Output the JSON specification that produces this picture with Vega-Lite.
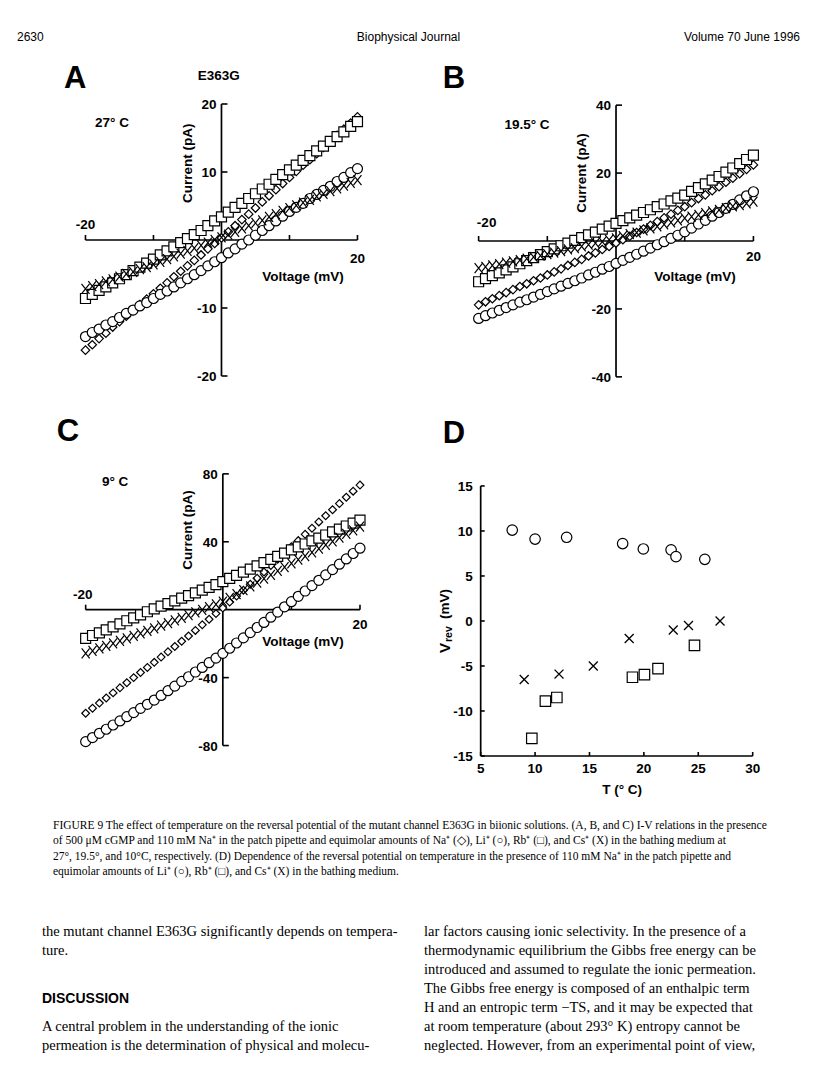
{
"$schema": "https://vega.github.io/schema/vega-lite/v6.json",
"padding": 0,
"spacing": 0,
"background": "white",
"config": {
  "view": {"stroke": null},
  "axis": {"disable": true},
  "legend": {"disable": true},
  "concat": {"spacing": 0},
  "text": {"font": "Liberation Sans", "fontWeight": "bold", "fontSize": 13.5, "color": "black", "baseline": "middle"},
  "rule": {"color": "black", "strokeWidth": 1.7},
  "tick": {"color": "black", "thickness": 1.6, "opacity": 1},
  "point": {"opacity": 1}
},
"datasets": {
  "A": [
    {"v":-20,"n":-16.2,"l":-14.2,"r":-8.6,"c":-7.2},{"v":-19,"n":-15.4,"l":-13.6,"r":-8.0,"c":-6.8},{"v":-18,"n":-14.5,"l":-13.1,"r":-7.4,"c":-6.5},{"v":-17,"n":-13.7,"l":-12.5,"r":-6.9,"c":-6.1},{"v":-16,"n":-12.8,"l":-12.0,"r":-6.3,"c":-5.8},{"v":-15,"n":-12.0,"l":-11.4,"r":-5.7,"c":-5.4},{"v":-14,"n":-11.2,"l":-10.8,"r":-5.1,"c":-5.0},{"v":-13,"n":-10.4,"l":-10.3,"r":-4.5,"c":-4.7},{"v":-12,"n":-9.5,"l":-9.7,"r":-4.0,"c":-4.3},{"v":-11,"n":-8.7,"l":-9.2,"r":-3.4,"c":-4.0},{"v":-10,"n":-7.9,"l":-8.6,"r":-2.8,"c":-3.6},{"v":-9,"n":-7.1,"l":-8.0,"r":-2.2,"c":-3.2},{"v":-8,"n":-6.3,"l":-7.5,"r":-1.6,"c":-2.8},{"v":-7,"n":-5.4,"l":-6.9,"r":-1.0,"c":-2.4},{"v":-6,"n":-4.6,"l":-6.3,"r":-0.4,"c":-2.0},{"v":-5,"n":-3.8,"l":-5.7,"r":0.2,"c":-1.6},{"v":-4,"n":-3.0,"l":-5.1,"r":0.8,"c":-1.2},{"v":-3,"n":-2.2,"l":-4.5,"r":1.4,"c":-0.8},{"v":-2,"n":-1.3,"l":-3.8,"r":2.1,"c":-0.4},{"v":-1,"n":-0.5,"l":-3.2,"r":2.8,"c":0.0},{"v":0,"n":0.3,"l":-2.6,"r":3.4,"c":0.4},{"v":1,"n":1.2,"l":-1.9,"r":4.1,"c":0.8},{"v":2,"n":2.1,"l":-1.3,"r":4.8,"c":1.2},{"v":3,"n":3.0,"l":-0.6,"r":5.4,"c":1.7},{"v":4,"n":3.8,"l":0.0,"r":6.1,"c":2.1},{"v":5,"n":4.7,"l":0.7,"r":6.8,"c":2.5},{"v":6,"n":5.6,"l":1.4,"r":7.5,"c":2.9},{"v":7,"n":6.5,"l":2.1,"r":8.2,"c":3.4},{"v":8,"n":7.4,"l":2.8,"r":8.9,"c":3.8},{"v":9,"n":8.3,"l":3.5,"r":9.6,"c":4.3},{"v":10,"n":9.2,"l":4.2,"r":10.3,"c":4.7},{"v":11,"n":10.1,"l":4.8,"r":11.0,"c":5.1},{"v":12,"n":11.0,"l":5.4,"r":11.7,"c":5.5},{"v":13,"n":11.8,"l":6.1,"r":12.4,"c":5.9},{"v":14,"n":12.7,"l":6.7,"r":13.1,"c":6.4},{"v":15,"n":13.6,"l":7.3,"r":13.8,"c":6.8},{"v":16,"n":14.5,"l":7.9,"r":14.5,"c":7.2},{"v":17,"n":15.4,"l":8.6,"r":15.2,"c":7.6},{"v":18,"n":16.3,"l":9.2,"r":15.9,"c":8.0},{"v":19,"n":17.2,"l":9.9,"r":16.7,"c":8.4},{"v":20,"n":18.1,"l":10.5,"r":17.4,"c":8.8}
  ],
  "B": [
    {"v":-20,"n":-18.8,"l":-22.8,"r":-12.0,"c":-8.0},{"v":-19,"n":-17.9,"l":-22.0,"r":-11.1,"c":-7.6},{"v":-18,"n":-17.0,"l":-21.2,"r":-10.2,"c":-7.2},{"v":-17,"n":-16.1,"l":-20.4,"r":-9.4,"c":-6.8},{"v":-16,"n":-15.2,"l":-19.6,"r":-8.5,"c":-6.4},{"v":-15,"n":-14.3,"l":-18.8,"r":-7.6,"c":-6.0},{"v":-14,"n":-13.4,"l":-18.0,"r":-6.7,"c":-5.6},{"v":-13,"n":-12.6,"l":-17.3,"r":-5.8,"c":-5.2},{"v":-12,"n":-11.7,"l":-16.5,"r":-4.9,"c":-4.7},{"v":-11,"n":-10.9,"l":-15.7,"r":-4.0,"c":-4.3},{"v":-10,"n":-10.0,"l":-14.9,"r":-3.1,"c":-3.9},{"v":-9,"n":-9.1,"l":-14.1,"r":-2.3,"c":-3.4},{"v":-8,"n":-8.2,"l":-13.3,"r":-1.4,"c":-3.0},{"v":-7,"n":-7.2,"l":-12.5,"r":-0.6,"c":-2.5},{"v":-6,"n":-6.3,"l":-11.7,"r":0.2,"c":-2.1},{"v":-5,"n":-5.4,"l":-10.9,"r":1.0,"c":-1.6},{"v":-4,"n":-4.4,"l":-10.0,"r":1.8,"c":-1.1},{"v":-3,"n":-3.5,"l":-9.2,"r":2.6,"c":-0.6},{"v":-2,"n":-2.5,"l":-8.3,"r":3.5,"c":-0.2},{"v":-1,"n":-1.6,"l":-7.5,"r":4.4,"c":0.3},{"v":0,"n":-0.6,"l":-6.6,"r":5.2,"c":0.8},{"v":1,"n":0.4,"l":-5.7,"r":6.0,"c":1.4},{"v":2,"n":1.4,"l":-4.8,"r":6.8,"c":2.0},{"v":3,"n":2.5,"l":-3.9,"r":7.6,"c":2.5},{"v":4,"n":3.5,"l":-3.0,"r":8.4,"c":3.1},{"v":5,"n":4.6,"l":-2.1,"r":9.2,"c":3.7},{"v":6,"n":5.7,"l":-1.1,"r":10.1,"c":4.3},{"v":7,"n":6.8,"l":-0.2,"r":10.9,"c":4.9},{"v":8,"n":7.9,"l":0.8,"r":11.8,"c":5.5},{"v":9,"n":9.0,"l":1.7,"r":12.6,"c":6.1},{"v":10,"n":10.1,"l":2.7,"r":13.5,"c":6.7},{"v":11,"n":11.3,"l":3.8,"r":14.6,"c":7.2},{"v":12,"n":12.5,"l":5.0,"r":15.7,"c":7.7},{"v":13,"n":13.6,"l":6.1,"r":16.8,"c":8.2},{"v":14,"n":14.8,"l":7.3,"r":17.9,"c":8.7},{"v":15,"n":16.0,"l":8.4,"r":19.0,"c":9.2},{"v":16,"n":17.3,"l":9.6,"r":20.3,"c":9.7},{"v":17,"n":18.5,"l":10.8,"r":21.5,"c":10.2},{"v":18,"n":19.8,"l":12.1,"r":22.8,"c":10.6},{"v":19,"n":21.1,"l":13.3,"r":24.0,"c":11.1},{"v":20,"n":22.4,"l":14.5,"r":25.3,"c":11.6}
  ],
  "C": [
    {"v":-20,"n":-61.0,"l":-77.7,"r":-16.9,"c":-25.7},{"v":-19,"n":-58.0,"l":-75.3,"r":-15.2,"c":-24.2},{"v":-18,"n":-55.0,"l":-72.8,"r":-13.6,"c":-22.8},{"v":-17,"n":-52.0,"l":-70.4,"r":-11.9,"c":-21.3},{"v":-16,"n":-49.0,"l":-67.9,"r":-10.1,"c":-19.9},{"v":-15,"n":-46.0,"l":-65.5,"r":-8.3,"c":-18.4},{"v":-14,"n":-43.0,"l":-63.0,"r":-6.5,"c":-16.9},{"v":-13,"n":-40.0,"l":-60.6,"r":-4.8,"c":-15.4},{"v":-12,"n":-37.0,"l":-58.1,"r":-3.0,"c":-14.0},{"v":-11,"n":-34.0,"l":-55.7,"r":-1.2,"c":-12.5},{"v":-10,"n":-31.0,"l":-53.2,"r":0.5,"c":-11.0},{"v":-9,"n":-27.9,"l":-50.5,"r":2.1,"c":-9.4},{"v":-8,"n":-24.8,"l":-47.7,"r":3.6,"c":-7.9},{"v":-7,"n":-21.7,"l":-45.0,"r":5.2,"c":-6.3},{"v":-6,"n":-18.6,"l":-42.2,"r":6.8,"c":-4.8},{"v":-5,"n":-15.5,"l":-39.5,"r":8.3,"c":-3.2},{"v":-4,"n":-12.2,"l":-36.7,"r":9.9,"c":-1.6},{"v":-3,"n":-8.9,"l":-34.0,"r":11.5,"c":-0.1},{"v":-2,"n":-5.6,"l":-31.2,"r":13.1,"c":1.5},{"v":-1,"n":-2.3,"l":-28.5,"r":14.8,"c":3.1},{"v":0,"n":1.0,"l":-25.7,"r":16.5,"c":4.7},{"v":1,"n":4.5,"l":-22.7,"r":18.4,"c":7.0},{"v":2,"n":8.0,"l":-19.6,"r":20.2,"c":9.2},{"v":3,"n":11.5,"l":-16.6,"r":22.1,"c":11.5},{"v":4,"n":15.0,"l":-13.5,"r":23.9,"c":13.7},{"v":5,"n":18.5,"l":-10.5,"r":25.8,"c":16.0},{"v":6,"n":22.2,"l":-7.5,"r":27.7,"c":18.3},{"v":7,"n":26.0,"l":-4.4,"r":29.6,"c":20.5},{"v":8,"n":29.7,"l":-1.4,"r":31.4,"c":22.8},{"v":9,"n":33.4,"l":1.7,"r":33.3,"c":25.0},{"v":10,"n":37.1,"l":4.7,"r":35.2,"c":27.3},{"v":11,"n":40.7,"l":7.9,"r":37.0,"c":29.5},{"v":12,"n":44.4,"l":11.0,"r":38.7,"c":31.6},{"v":13,"n":48.0,"l":14.2,"r":40.5,"c":33.8},{"v":14,"n":51.7,"l":17.3,"r":42.2,"c":35.9},{"v":15,"n":55.3,"l":20.5,"r":44.0,"c":38.1},{"v":16,"n":58.9,"l":23.6,"r":45.8,"c":40.3},{"v":17,"n":62.5,"l":26.8,"r":47.5,"c":42.4},{"v":18,"n":66.2,"l":29.9,"r":49.3,"c":44.6},{"v":19,"n":69.8,"l":33.1,"r":51.0,"c":46.7},{"v":20,"n":73.4,"l":36.2,"r":52.8,"c":48.9}
  ],
  "Dli": [{"t":7.9,"y":10.1},{"t":10.0,"y":9.1},{"t":12.9,"y":9.3},{"t":18.05,"y":8.6},{"t":19.95,"y":8.0},{"t":22.5,"y":7.9},{"t":22.95,"y":7.15},{"t":25.6,"y":6.85}],
  "Dcs": [{"t":9.0,"y":-6.5},{"t":12.2,"y":-5.9},{"t":15.35,"y":-5.0},{"t":18.65,"y":-1.95},{"t":22.7,"y":-1.0},{"t":24.1,"y":-0.5},{"t":27.0,"y":0.0}],
  "Drb": [{"t":9.7,"y":-13.05},{"t":10.95,"y":-8.9},{"t":12.0,"y":-8.5},{"t":18.95,"y":-6.25},{"t":20.05,"y":-5.95},{"t":21.3,"y":-5.3},{"t":24.65,"y":-2.7}]
},
"vconcat": [
  {
    "width": 816, "height": 50,
    "layer": [
      {"data": {"values": [{"pos": "left", "txt": "2630"}]}, "mark": {"type": "text", "align": "left", "fontWeight": "normal", "fontSize": 12}, "encoding": {"x": {"field": "pos", "type": "nominal", "scale": {"type": "point", "domain": ["left", "center", "right"], "range": [17, 800], "padding": 0}}, "y": {"datum": 1, "scale": {"domain": [0, 1], "range": [50, 37]}}, "text": {"field": "txt"}}},
      {"data": {"values": [{"pos": "center", "txt": "Biophysical Journal"}]}, "mark": {"type": "text", "align": "center", "fontWeight": "normal", "fontSize": 12}, "encoding": {"x": {"field": "pos", "type": "nominal", "scale": {"type": "point", "domain": ["left", "center", "right"], "range": [17, 800], "padding": 0}}, "y": {"datum": 1, "scale": {"domain": [0, 1], "range": [50, 37]}}, "text": {"field": "txt"}}},
      {"data": {"values": [{"pos": "right", "txt": "Volume 70   June 1996"}]}, "mark": {"type": "text", "align": "right", "fontWeight": "normal", "fontSize": 12}, "encoding": {"x": {"field": "pos", "type": "nominal", "scale": {"type": "point", "domain": ["left", "center", "right"], "range": [17, 800], "padding": 0}}, "y": {"datum": 1, "scale": {"domain": [0, 1], "range": [50, 37]}}, "text": {"field": "txt"}}}
    ]
  },
  {
    "spacing": 0,
    "hconcat": [
      {
        "width": 408, "height": 360,
        "layer": [
          {"data": {"values": [{}]}, "mark": "rule", "encoding": {"x": {"datum": -20, "scale": {"domain": [-32.57, 27.43], "nice": false, "zero": false}}, "x2": {"datum": 20}, "y": {"datum": 0, "scale": {"domain": [-25, 27.94], "nice": false, "zero": false}}}},
          {"data": {"values": [{}]}, "mark": "rule", "encoding": {"x": {"datum": 0, "scale": {"domain": [-32.57, 27.43], "nice": false, "zero": false}}, "y": {"datum": -20, "scale": {"domain": [-25, 27.94], "nice": false, "zero": false}}, "y2": {"datum": 20}}},
          {"data": {"values": [{"t": -20, "lab": "-20"}, {"t": -10, "lab": "-10"}, {"t": 10, "lab": "10"}, {"t": 20, "lab": "20"}]},
           "layer": [
             {"mark": {"type": "tick", "orient": "horizontal", "size": 6, "xOffset": 3}, "encoding": {"x": {"datum": 0, "scale": {"domain": [-32.57, 27.43], "nice": false, "zero": false}}, "y": {"field": "t", "type": "quantitative", "scale": {"domain": [-25, 27.94], "nice": false, "zero": false}}}},
             {"mark": {"type": "text", "align": "right", "dx": -5, "dy": 1}, "encoding": {"x": {"datum": 0, "scale": {"domain": [-32.57, 27.43], "nice": false, "zero": false}}, "y": {"field": "t", "type": "quantitative", "scale": {"domain": [-25, 27.94], "nice": false, "zero": false}}, "text": {"field": "lab"}}},
             {"mark": {"type": "tick", "orient": "vertical", "size": 5, "yOffset": -2.5}, "encoding": {"x": {"field": "t", "type": "quantitative", "scale": {"domain": [-32.57, 27.43], "nice": false, "zero": false}}, "y": {"datum": 0, "scale": {"domain": [-25, 27.94], "nice": false, "zero": false}}}}
           ]},
          {"data": {"values": [{"t": -20, "lab": "-20"}]}, "mark": {"type": "text", "dy": -15}, "encoding": {"x": {"field": "t", "type": "quantitative", "scale": {"domain": [-32.57, 27.43], "nice": false, "zero": false}}, "y": {"datum": 0, "scale": {"domain": [-25, 27.94], "nice": false, "zero": false}}, "text": {"field": "lab"}}},
          {"data": {"values": [{"t": 20, "lab": "20"}]}, "mark": {"type": "text", "dy": 19}, "encoding": {"x": {"field": "t", "type": "quantitative", "scale": {"domain": [-32.57, 27.43], "nice": false, "zero": false}}, "y": {"datum": 0, "scale": {"domain": [-25, 27.94], "nice": false, "zero": false}}, "text": {"field": "lab"}}},
          {"data": {"name": "A"},
           "layer": [
             {"mark": {"type": "point", "shape": "diamond", "size": 72, "filled": true, "fill": "white", "stroke": "black", "strokeWidth": 1.2}, "encoding": {"x": {"field": "v", "type": "quantitative", "scale": {"domain": [-32.57, 27.43], "nice": false, "zero": false}}, "y": {"field": "n", "type": "quantitative", "scale": {"domain": [-25, 27.94], "nice": false, "zero": false}}}},
             {"mark": {"type": "point", "shape": "circle", "size": 100, "filled": true, "fill": "white", "stroke": "black", "strokeWidth": 1.2}, "encoding": {"x": {"field": "v", "type": "quantitative", "scale": {"domain": [-32.57, 27.43], "nice": false, "zero": false}}, "y": {"field": "l", "type": "quantitative", "scale": {"domain": [-25, 27.94], "nice": false, "zero": false}}}},
             {"mark": {"type": "point", "shape": "square", "size": 100, "filled": true, "fill": "white", "stroke": "black", "strokeWidth": 1.2}, "encoding": {"x": {"field": "v", "type": "quantitative", "scale": {"domain": [-32.57, 27.43], "nice": false, "zero": false}}, "y": {"field": "r", "type": "quantitative", "scale": {"domain": [-25, 27.94], "nice": false, "zero": false}}}},
             {"mark": {"type": "point", "shape": "M-0.8,-1L0.8,1M-0.8,1L0.8,-1", "size": 100, "filled": false, "stroke": "black", "strokeWidth": 1.2}, "encoding": {"x": {"field": "v", "type": "quantitative", "scale": {"domain": [-32.57, 27.43], "nice": false, "zero": false}}, "y": {"field": "c", "type": "quantitative", "scale": {"domain": [-25, 27.94], "nice": false, "zero": false}}}}
           ]},
          {"data": {"values": [{}]}, "mark": {"type": "text", "text": "A", "fontSize": 31}, "encoding": {"x": {"datum": -21.5, "scale": {"domain": [-32.57, 27.43], "nice": false, "zero": false}}, "y": {"datum": 23.7, "scale": {"domain": [-25, 27.94], "nice": false, "zero": false}}}},
          {"data": {"values": [{}]}, "mark": {"type": "text", "text": "E363G"}, "encoding": {"x": {"datum": -0.4, "scale": {"domain": [-32.57, 27.43], "nice": false, "zero": false}}, "y": {"datum": 24.1, "scale": {"domain": [-25, 27.94], "nice": false, "zero": false}}}},
          {"data": {"values": [{}]}, "mark": {"type": "text", "text": "27° C"}, "encoding": {"x": {"datum": -16.1, "scale": {"domain": [-32.57, 27.43], "nice": false, "zero": false}}, "y": {"datum": 17.2, "scale": {"domain": [-25, 27.94], "nice": false, "zero": false}}}},
          {"data": {"values": [{}]}, "mark": {"type": "text", "text": "Current  (pA)", "angle": 270}, "encoding": {"x": {"datum": -4.93, "scale": {"domain": [-32.57, 27.43], "nice": false, "zero": false}}, "y": {"datum": 11.3, "scale": {"domain": [-25, 27.94], "nice": false, "zero": false}}}},
          {"data": {"values": [{}]}, "mark": {"type": "text", "text": "Voltage  (mV)"}, "encoding": {"x": {"datum": 12.0, "scale": {"domain": [-32.57, 27.43], "nice": false, "zero": false}}, "y": {"datum": -5.4, "scale": {"domain": [-25, 27.94], "nice": false, "zero": false}}}}
        ]
      },
      {
        "width": 408, "height": 360,
        "layer": [
          {"data": {"values": [{}]}, "mark": "rule", "encoding": {"x": {"datum": -20, "scale": {"domain": [-30.28, 29.11], "nice": false, "zero": false}}, "x2": {"datum": 20}, "y": {"datum": 0, "scale": {"domain": [-49.76, 56.24], "nice": false, "zero": false}}}},
          {"data": {"values": [{}]}, "mark": "rule", "encoding": {"x": {"datum": 0, "scale": {"domain": [-30.28, 29.11], "nice": false, "zero": false}}, "y": {"datum": -40, "scale": {"domain": [-49.76, 56.24], "nice": false, "zero": false}}, "y2": {"datum": 40}}},
          {"data": {"values": [{"t": -40, "lab": "-40"}, {"t": -20, "lab": "-20"}, {"t": 20, "lab": "20"}, {"t": 40, "lab": "40"}]},
           "layer": [
             {"mark": {"type": "tick", "orient": "horizontal", "size": 6, "xOffset": 3}, "encoding": {"x": {"datum": 0, "scale": {"domain": [-30.28, 29.11], "nice": false, "zero": false}}, "y": {"field": "t", "type": "quantitative", "scale": {"domain": [-49.76, 56.24], "nice": false, "zero": false}}}},
             {"mark": {"type": "text", "align": "right", "dx": -5, "dy": 1}, "encoding": {"x": {"datum": 0, "scale": {"domain": [-30.28, 29.11], "nice": false, "zero": false}}, "y": {"field": "t", "type": "quantitative", "scale": {"domain": [-49.76, 56.24], "nice": false, "zero": false}}, "text": {"field": "lab"}}}
           ]},
          {"data": {"values": [{"t": -20}, {"t": -10}, {"t": 10}, {"t": 20}]}, "mark": {"type": "tick", "orient": "vertical", "size": 5, "yOffset": -2.5}, "encoding": {"x": {"field": "t", "type": "quantitative", "scale": {"domain": [-30.28, 29.11], "nice": false, "zero": false}}, "y": {"datum": 0, "scale": {"domain": [-49.76, 56.24], "nice": false, "zero": false}}}},
          {"data": {"values": [{"t": -20, "lab": "-20"}]}, "mark": {"type": "text", "dy": -18, "dx": 8}, "encoding": {"x": {"field": "t", "type": "quantitative", "scale": {"domain": [-30.28, 29.11], "nice": false, "zero": false}}, "y": {"datum": 0, "scale": {"domain": [-49.76, 56.24], "nice": false, "zero": false}}, "text": {"field": "lab"}}},
          {"data": {"values": [{"t": 20, "lab": "20"}]}, "mark": {"type": "text", "dy": 16}, "encoding": {"x": {"field": "t", "type": "quantitative", "scale": {"domain": [-30.28, 29.11], "nice": false, "zero": false}}, "y": {"datum": 0, "scale": {"domain": [-49.76, 56.24], "nice": false, "zero": false}}, "text": {"field": "lab"}}},
          {"data": {"name": "B"},
           "layer": [
             {"mark": {"type": "point", "shape": "diamond", "size": 72, "filled": true, "fill": "white", "stroke": "black", "strokeWidth": 1.2}, "encoding": {"x": {"field": "v", "type": "quantitative", "scale": {"domain": [-30.28, 29.11], "nice": false, "zero": false}}, "y": {"field": "n", "type": "quantitative", "scale": {"domain": [-49.76, 56.24], "nice": false, "zero": false}}}},
             {"mark": {"type": "point", "shape": "circle", "size": 100, "filled": true, "fill": "white", "stroke": "black", "strokeWidth": 1.2}, "encoding": {"x": {"field": "v", "type": "quantitative", "scale": {"domain": [-30.28, 29.11], "nice": false, "zero": false}}, "y": {"field": "l", "type": "quantitative", "scale": {"domain": [-49.76, 56.24], "nice": false, "zero": false}}}},
             {"mark": {"type": "point", "shape": "square", "size": 100, "filled": true, "fill": "white", "stroke": "black", "strokeWidth": 1.2}, "encoding": {"x": {"field": "v", "type": "quantitative", "scale": {"domain": [-30.28, 29.11], "nice": false, "zero": false}}, "y": {"field": "r", "type": "quantitative", "scale": {"domain": [-49.76, 56.24], "nice": false, "zero": false}}}},
             {"mark": {"type": "point", "shape": "M-0.8,-1L0.8,1M-0.8,1L0.8,-1", "size": 100, "filled": false, "stroke": "black", "strokeWidth": 1.2}, "encoding": {"x": {"field": "v", "type": "quantitative", "scale": {"domain": [-30.28, 29.11], "nice": false, "zero": false}}, "y": {"field": "c", "type": "quantitative", "scale": {"domain": [-49.76, 56.24], "nice": false, "zero": false}}}}
           ]},
          {"data": {"values": [{}]}, "mark": {"type": "text", "text": "B", "fontSize": 31}, "encoding": {"x": {"datum": -23.6, "scale": {"domain": [-30.28, 29.11], "nice": false, "zero": false}}, "y": {"datum": 47.7, "scale": {"domain": [-49.76, 56.24], "nice": false, "zero": false}}}},
          {"data": {"values": [{}]}, "mark": {"type": "text", "text": "19.5° C"}, "encoding": {"x": {"datum": -12.96, "scale": {"domain": [-30.28, 29.11], "nice": false, "zero": false}}, "y": {"datum": 34.2, "scale": {"domain": [-49.76, 56.24], "nice": false, "zero": false}}}},
          {"data": {"values": [{}]}, "mark": {"type": "text", "text": "Current  (pA)", "angle": 270}, "encoding": {"x": {"datum": -4.95, "scale": {"domain": [-30.28, 29.11], "nice": false, "zero": false}}, "y": {"datum": 20.0, "scale": {"domain": [-49.76, 56.24], "nice": false, "zero": false}}}},
          {"data": {"values": [{}]}, "mark": {"type": "text", "text": "Voltage  (mV)"}, "encoding": {"x": {"datum": 11.5, "scale": {"domain": [-30.28, 29.11], "nice": false, "zero": false}}, "y": {"datum": -10.6, "scale": {"domain": [-49.76, 56.24], "nice": false, "zero": false}}}}
        ]
      }
    ]
  },
  {
    "spacing": 0,
    "hconcat": [
      {
        "width": 408, "height": 400,
        "layer": [
          {"data": {"values": [{}]}, "mark": "rule", "encoding": {"x": {"datum": -20, "scale": {"domain": [-32.49, 27.0], "nice": false, "zero": false}}, "x2": {"datum": 20}, "y": {"datum": 0, "scale": {"domain": [-117.96, 117.6], "nice": false, "zero": false}}}},
          {"data": {"values": [{}]}, "mark": "rule", "encoding": {"x": {"datum": 0, "scale": {"domain": [-32.49, 27.0], "nice": false, "zero": false}}, "y": {"datum": -80, "scale": {"domain": [-117.96, 117.6], "nice": false, "zero": false}}, "y2": {"datum": 80}}},
          {"data": {"values": [{"t": -80, "lab": "-80"}, {"t": -40, "lab": "-40"}, {"t": 40, "lab": "40"}, {"t": 80, "lab": "80"}]},
           "layer": [
             {"mark": {"type": "tick", "orient": "horizontal", "size": 6, "xOffset": 3}, "encoding": {"x": {"datum": 0, "scale": {"domain": [-32.49, 27.0], "nice": false, "zero": false}}, "y": {"field": "t", "type": "quantitative", "scale": {"domain": [-117.96, 117.6], "nice": false, "zero": false}}}},
             {"mark": {"type": "text", "align": "right", "dx": -5, "dy": 1}, "encoding": {"x": {"datum": 0, "scale": {"domain": [-32.49, 27.0], "nice": false, "zero": false}}, "y": {"field": "t", "type": "quantitative", "scale": {"domain": [-117.96, 117.6], "nice": false, "zero": false}}, "text": {"field": "lab"}}}
           ]},
          {"data": {"values": [{"t": -20}, {"t": -10}, {"t": 10}, {"t": 20}]}, "mark": {"type": "tick", "orient": "vertical", "size": 5, "yOffset": -2.5}, "encoding": {"x": {"field": "t", "type": "quantitative", "scale": {"domain": [-32.49, 27.0], "nice": false, "zero": false}}, "y": {"datum": 0, "scale": {"domain": [-117.96, 117.6], "nice": false, "zero": false}}}},
          {"data": {"values": [{"t": -20, "lab": "-20"}]}, "mark": {"type": "text", "dy": -15, "dx": -3}, "encoding": {"x": {"field": "t", "type": "quantitative", "scale": {"domain": [-32.49, 27.0], "nice": false, "zero": false}}, "y": {"datum": 0, "scale": {"domain": [-117.96, 117.6], "nice": false, "zero": false}}, "text": {"field": "lab"}}},
          {"data": {"values": [{"t": 20, "lab": "20"}]}, "mark": {"type": "text", "dy": 15}, "encoding": {"x": {"field": "t", "type": "quantitative", "scale": {"domain": [-32.49, 27.0], "nice": false, "zero": false}}, "y": {"datum": 0, "scale": {"domain": [-117.96, 117.6], "nice": false, "zero": false}}, "text": {"field": "lab"}}},
          {"data": {"name": "C"},
           "layer": [
             {"mark": {"type": "point", "shape": "diamond", "size": 60, "filled": true, "fill": "white", "stroke": "black", "strokeWidth": 1.2}, "encoding": {"x": {"field": "v", "type": "quantitative", "scale": {"domain": [-32.49, 27.0], "nice": false, "zero": false}}, "y": {"field": "n", "type": "quantitative", "scale": {"domain": [-117.96, 117.6], "nice": false, "zero": false}}}},
             {"mark": {"type": "point", "shape": "circle", "size": 100, "filled": true, "fill": "white", "stroke": "black", "strokeWidth": 1.2}, "encoding": {"x": {"field": "v", "type": "quantitative", "scale": {"domain": [-32.49, 27.0], "nice": false, "zero": false}}, "y": {"field": "l", "type": "quantitative", "scale": {"domain": [-117.96, 117.6], "nice": false, "zero": false}}}},
             {"mark": {"type": "point", "shape": "square", "size": 100, "filled": true, "fill": "white", "stroke": "black", "strokeWidth": 1.2}, "encoding": {"x": {"field": "v", "type": "quantitative", "scale": {"domain": [-32.49, 27.0], "nice": false, "zero": false}}, "y": {"field": "r", "type": "quantitative", "scale": {"domain": [-117.96, 117.6], "nice": false, "zero": false}}}},
             {"mark": {"type": "point", "shape": "M-0.8,-1L0.8,1M-0.8,1L0.8,-1", "size": 100, "filled": false, "stroke": "black", "strokeWidth": 1.2}, "encoding": {"x": {"field": "v", "type": "quantitative", "scale": {"domain": [-32.49, 27.0], "nice": false, "zero": false}}, "y": {"field": "c", "type": "quantitative", "scale": {"domain": [-117.96, 117.6], "nice": false, "zero": false}}}}
           ]},
          {"data": {"values": [{}]}, "mark": {"type": "text", "text": "C", "fontSize": 31}, "encoding": {"x": {"datum": -22.6, "scale": {"domain": [-32.49, 27.0], "nice": false, "zero": false}}, "y": {"datum": 104.7, "scale": {"domain": [-117.96, 117.6], "nice": false, "zero": false}}}},
          {"data": {"values": [{}]}, "mark": {"type": "text", "text": "9° C"}, "encoding": {"x": {"datum": -15.7, "scale": {"domain": [-32.49, 27.0], "nice": false, "zero": false}}, "y": {"datum": 75.2, "scale": {"domain": [-117.96, 117.6], "nice": false, "zero": false}}}},
          {"data": {"values": [{}]}, "mark": {"type": "text", "text": "Current  (pA)", "angle": 270}, "encoding": {"x": {"datum": -5.07, "scale": {"domain": [-32.49, 27.0], "nice": false, "zero": false}}, "y": {"datum": 46.9, "scale": {"domain": [-117.96, 117.6], "nice": false, "zero": false}}}},
          {"data": {"values": [{}]}, "mark": {"type": "text", "text": "Voltage  (mV)"}, "encoding": {"x": {"datum": 11.7, "scale": {"domain": [-32.49, 27.0], "nice": false, "zero": false}}, "y": {"datum": -19.0, "scale": {"domain": [-117.96, 117.6], "nice": false, "zero": false}}}}
        ]
      },
      {
        "width": 408, "height": 400,
        "layer": [
          {"data": {"values": [{}]}, "mark": "rule", "encoding": {"x": {"datum": 5, "scale": {"domain": [-1.68, 35.82], "nice": false, "zero": false}}, "x2": {"datum": 30}, "y": {"datum": -15, "scale": {"domain": [-21.0, 23.44], "nice": false, "zero": false}}}},
          {"data": {"values": [{}]}, "mark": "rule", "encoding": {"x": {"datum": 5, "scale": {"domain": [-1.68, 35.82], "nice": false, "zero": false}}, "y": {"datum": -15, "scale": {"domain": [-21.0, 23.44], "nice": false, "zero": false}}, "y2": {"datum": 15}}},
          {"data": {"values": [{"t": -15, "lab": "-15"}, {"t": -10, "lab": "-10"}, {"t": -5, "lab": "-5"}, {"t": 0, "lab": "0"}, {"t": 5, "lab": "5"}, {"t": 10, "lab": "10"}, {"t": 15, "lab": "15"}]},
           "layer": [
             {"mark": {"type": "tick", "orient": "horizontal", "size": 4, "xOffset": 2}, "encoding": {"x": {"datum": 5, "scale": {"domain": [-1.68, 35.82], "nice": false, "zero": false}}, "y": {"field": "t", "type": "quantitative", "scale": {"domain": [-21.0, 23.44], "nice": false, "zero": false}}}},
             {"mark": {"type": "text", "align": "right", "dx": -8, "dy": 1}, "encoding": {"x": {"datum": 5, "scale": {"domain": [-1.68, 35.82], "nice": false, "zero": false}}, "y": {"field": "t", "type": "quantitative", "scale": {"domain": [-21.0, 23.44], "nice": false, "zero": false}}, "text": {"field": "lab"}}}
           ]},
          {"data": {"values": [{"t": 5, "lab": "5"}, {"t": 10, "lab": "10"}, {"t": 15, "lab": "15"}, {"t": 20, "lab": "20"}, {"t": 25, "lab": "25"}, {"t": 30, "lab": "30"}]},
           "layer": [
             {"mark": {"type": "tick", "orient": "vertical", "size": 4, "yOffset": -2}, "encoding": {"x": {"field": "t", "type": "quantitative", "scale": {"domain": [-1.68, 35.82], "nice": false, "zero": false}}, "y": {"datum": -15, "scale": {"domain": [-21.0, 23.44], "nice": false, "zero": false}}}},
             {"mark": {"type": "text", "dy": 13}, "encoding": {"x": {"field": "t", "type": "quantitative", "scale": {"domain": [-1.68, 35.82], "nice": false, "zero": false}}, "y": {"datum": -15, "scale": {"domain": [-21.0, 23.44], "nice": false, "zero": false}}, "text": {"field": "lab"}}}
           ]},
          {"data": {"name": "Dli"}, "mark": {"type": "point", "shape": "circle", "size": 110, "filled": true, "fill": "white", "stroke": "black", "strokeWidth": 1.2}, "encoding": {"x": {"field": "t", "type": "quantitative", "scale": {"domain": [-1.68, 35.82], "nice": false, "zero": false}}, "y": {"field": "y", "type": "quantitative", "scale": {"domain": [-21.0, 23.44], "nice": false, "zero": false}}}},
          {"data": {"name": "Drb"}, "mark": {"type": "point", "shape": "square", "size": 110, "filled": true, "fill": "white", "stroke": "black", "strokeWidth": 1.2}, "encoding": {"x": {"field": "t", "type": "quantitative", "scale": {"domain": [-1.68, 35.82], "nice": false, "zero": false}}, "y": {"field": "y", "type": "quantitative", "scale": {"domain": [-21.0, 23.44], "nice": false, "zero": false}}}},
          {"data": {"name": "Dcs"}, "mark": {"type": "point", "shape": "M-1,-1L1,1M-1,1L1,-1", "size": 80, "filled": false, "stroke": "black", "strokeWidth": 1.3}, "encoding": {"x": {"field": "t", "type": "quantitative", "scale": {"domain": [-1.68, 35.82], "nice": false, "zero": false}}, "y": {"field": "y", "type": "quantitative", "scale": {"domain": [-21.0, 23.44], "nice": false, "zero": false}}}},
          {"data": {"values": [{}]}, "mark": {"type": "text", "text": "D", "fontSize": 31}, "encoding": {"x": {"datum": 2.55, "scale": {"domain": [-1.68, 35.82], "nice": false, "zero": false}}, "y": {"datum": 20.8, "scale": {"domain": [-21.0, 23.44], "nice": false, "zero": false}}}},
          {"data": {"values": [{}]}, "mark": {"type": "text", "text": "T (° C)"}, "encoding": {"x": {"datum": 18.0, "scale": {"domain": [-1.68, 35.82], "nice": false, "zero": false}}, "y": {"datum": -18.8, "scale": {"domain": [-21.0, 23.44], "nice": false, "zero": false}}}},
          {"data": {"values": [{}]}, "mark": {"type": "text", "text": "V", "angle": 270, "align": "left", "fontSize": 15}, "encoding": {"x": {"datum": 1.72, "scale": {"domain": [-1.68, 35.82], "nice": false, "zero": false}}, "y": {"datum": -3.56, "scale": {"domain": [-21.0, 23.44], "nice": false, "zero": false}}}},
          {"data": {"values": [{}]}, "mark": {"type": "text", "text": "rev", "angle": 270, "align": "left", "fontSize": 10.5, "dx": 11, "dy": 4}, "encoding": {"x": {"datum": 1.72, "scale": {"domain": [-1.68, 35.82], "nice": false, "zero": false}}, "y": {"datum": -3.56, "scale": {"domain": [-21.0, 23.44], "nice": false, "zero": false}}}},
          {"data": {"values": [{}]}, "mark": {"type": "text", "text": "(mV)", "angle": 270, "align": "left", "fontSize": 13.5, "dx": 34}, "encoding": {"x": {"datum": 1.72, "scale": {"domain": [-1.68, 35.82], "nice": false, "zero": false}}, "y": {"datum": -3.56, "scale": {"domain": [-21.0, 23.44], "nice": false, "zero": false}}}}
        ]
      }
    ]
  },
  {
    "width": 816, "height": 85,
    "data": {"values": [
      {"line": 1, "txt": "FIGURE 9    The effect of temperature on the reversal potential of the mutant channel E363G in biionic solutions. (A, B, and C) I-V relations in the presence"},
      {"line": 2, "txt": "of 500 μM cGMP and 110 mM Na⁺ in the patch pipette and equimolar amounts of Na⁺ (◇), Li⁺ (○), Rb⁺ (□), and Cs⁺ (X) in the bathing medium at"},
      {"line": 3, "txt": "27°, 19.5°, and 10°C, respectively. (D) Dependence of the reversal potential on temperature in the presence of 110 mM Na⁺ in the patch pipette and"},
      {"line": 4, "txt": "equimolar amounts of Li⁺ (○), Rb⁺ (□), and Cs⁺ (X) in the bathing medium."}
    ]},
    "mark": {"type": "text", "align": "left", "font": "Liberation Serif", "fontWeight": "normal", "fontSize": 11.5},
    "encoding": {
      "x": {"datum": 0, "scale": {"domain": [0, 1], "range": [53, 771]}},
      "y": {"field": "line", "type": "quantitative", "scale": {"domain": [1, 4], "range": [16, 62]}},
      "text": {"field": "txt"}
    }
  },
  {
    "width": 816, "height": 183,
    "layer": [
      {"data": {"values": [
        {"col": "left", "line": 1, "txt": "the mutant channel E363G significantly depends on tempera-"},
        {"col": "left", "line": 2, "txt": "ture."},
        {"col": "left", "line": 6, "txt": "A central problem in the understanding of the ionic"},
        {"col": "left", "line": 7, "txt": "permeation is the determination of physical and molecu-"},
        {"col": "right", "line": 1, "txt": "lar factors causing ionic selectivity. In the presence of a"},
        {"col": "right", "line": 2, "txt": "thermodynamic equilibrium the Gibbs free energy can be"},
        {"col": "right", "line": 3, "txt": "introduced and assumed to regulate the ionic permeation."},
        {"col": "right", "line": 4, "txt": "The Gibbs free energy is composed of an enthalpic term"},
        {"col": "right", "line": 5, "txt": "H and an entropic term −TS, and it may be expected that"},
        {"col": "right", "line": 6, "txt": "at room temperature (about 293° K) entropy cannot be"},
        {"col": "right", "line": 7, "txt": "neglected. However, from an experimental point of view,"}
       ]},
       "mark": {"type": "text", "align": "left", "font": "Liberation Serif", "fontWeight": "normal", "fontSize": 14.5},
       "encoding": {
         "x": {"field": "col", "type": "nominal", "scale": {"type": "point", "domain": ["left", "right"], "range": [42, 424], "padding": 0}},
         "y": {"field": "line", "type": "quantitative", "scale": {"domain": [1, 7], "range": [37, 151]}},
         "text": {"field": "txt"}
       }},
      {"data": {"values": [{"col": "left", "line": 4.5, "txt": "DISCUSSION"}]},
       "mark": {"type": "text", "align": "left", "font": "Liberation Sans", "fontWeight": "bold", "fontSize": 14},
       "encoding": {
         "x": {"field": "col", "type": "nominal", "scale": {"type": "point", "domain": ["left", "right"], "range": [42, 424], "padding": 0}},
         "y": {"field": "line", "type": "quantitative", "scale": {"domain": [1, 7], "range": [37, 151]}},
         "text": {"field": "txt"}
       }}
    ]
  }
]
}
